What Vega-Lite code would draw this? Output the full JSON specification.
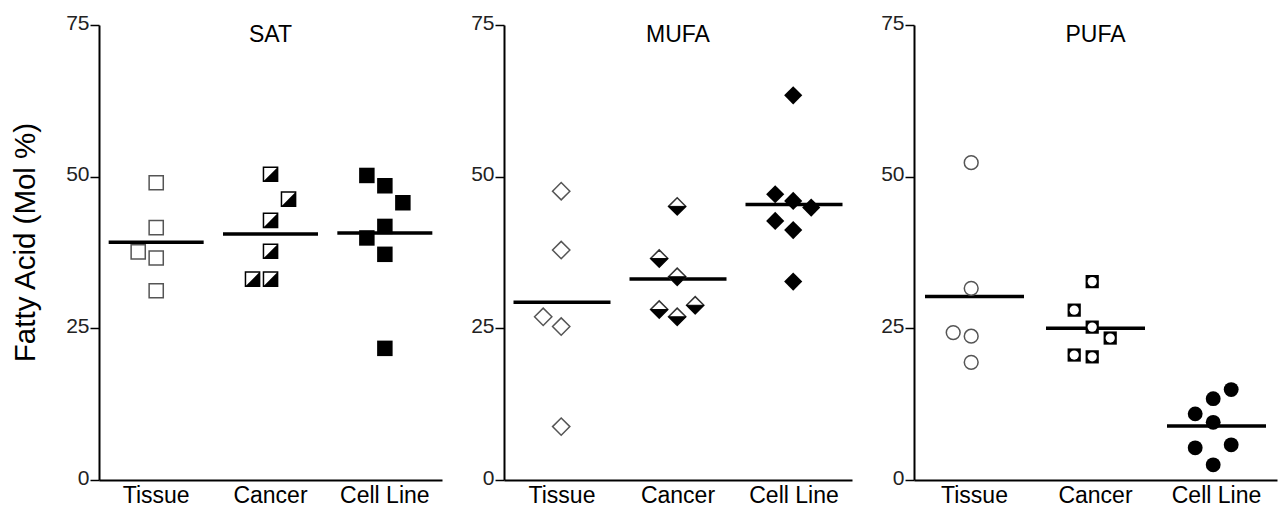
{
  "$schema": "https://vega.github.io/schema/vega-lite/v6.json",
  "padding": {"left": 10, "top": 12, "right": 2, "bottom": 5},
  "spacing": 28,
  "config": {
    "font": "Liberation Sans",
    "view": {"stroke": null},
    "axis": {"grid": false, "domainColor": "black", "domainWidth": 2, "tickColor": "black", "tickWidth": 1.5, "labelFont": "Liberation Sans", "titleFont": "Liberation Sans"},
    "title": {"font": "Liberation Sans", "fontSize": 23, "fontWeight": "normal", "color": "black", "anchor": "middle", "offset": -35, "baseline": "alphabetic"}
  },
  "data": {"values": [
    {"panel": "SAT", "group": "Tissue", "value": 49.0, "slot": 0},
    {"panel": "SAT", "group": "Tissue", "value": 41.6, "slot": 0},
    {"panel": "SAT", "group": "Tissue", "value": 37.6, "slot": -1},
    {"panel": "SAT", "group": "Tissue", "value": 36.6, "slot": 0},
    {"panel": "SAT", "group": "Tissue", "value": 31.2, "slot": 0},
    {"panel": "SAT", "group": "Cancer", "value": 50.4, "slot": 0},
    {"panel": "SAT", "group": "Cancer", "value": 46.3, "slot": 1},
    {"panel": "SAT", "group": "Cancer", "value": 42.8, "slot": 0},
    {"panel": "SAT", "group": "Cancer", "value": 37.7, "slot": 0},
    {"panel": "SAT", "group": "Cancer", "value": 33.1, "slot": -1},
    {"panel": "SAT", "group": "Cancer", "value": 33.1, "slot": 0},
    {"panel": "SAT", "group": "Cell Line", "value": 50.2, "slot": -1},
    {"panel": "SAT", "group": "Cell Line", "value": 48.5, "slot": 0},
    {"panel": "SAT", "group": "Cell Line", "value": 45.7, "slot": 1},
    {"panel": "SAT", "group": "Cell Line", "value": 41.8, "slot": 0},
    {"panel": "SAT", "group": "Cell Line", "value": 39.9, "slot": -1},
    {"panel": "SAT", "group": "Cell Line", "value": 37.2, "slot": 0},
    {"panel": "SAT", "group": "Cell Line", "value": 21.7, "slot": 0},
    {"panel": "MUFA", "group": "Tissue", "value": 47.6, "slot": 0},
    {"panel": "MUFA", "group": "Tissue", "value": 37.9, "slot": 0},
    {"panel": "MUFA", "group": "Tissue", "value": 26.9, "slot": -1},
    {"panel": "MUFA", "group": "Tissue", "value": 25.3, "slot": 0},
    {"panel": "MUFA", "group": "Tissue", "value": 8.8, "slot": 0},
    {"panel": "MUFA", "group": "Cancer", "value": 45.1, "slot": 0},
    {"panel": "MUFA", "group": "Cancer", "value": 36.5, "slot": -1},
    {"panel": "MUFA", "group": "Cancer", "value": 33.5, "slot": 0},
    {"panel": "MUFA", "group": "Cancer", "value": 28.1, "slot": -1},
    {"panel": "MUFA", "group": "Cancer", "value": 26.9, "slot": 0},
    {"panel": "MUFA", "group": "Cancer", "value": 28.8, "slot": 1},
    {"panel": "MUFA", "group": "Cell Line", "value": 63.4, "slot": 0},
    {"panel": "MUFA", "group": "Cell Line", "value": 47.1, "slot": -1},
    {"panel": "MUFA", "group": "Cell Line", "value": 46.0, "slot": 0},
    {"panel": "MUFA", "group": "Cell Line", "value": 44.9, "slot": 1},
    {"panel": "MUFA", "group": "Cell Line", "value": 42.7, "slot": -1},
    {"panel": "MUFA", "group": "Cell Line", "value": 41.2, "slot": 0},
    {"panel": "MUFA", "group": "Cell Line", "value": 32.7, "slot": 0},
    {"panel": "PUFA", "group": "Tissue", "value": 52.3, "slot": 0},
    {"panel": "PUFA", "group": "Tissue", "value": 31.6, "slot": 0},
    {"panel": "PUFA", "group": "Tissue", "value": 24.3, "slot": -1},
    {"panel": "PUFA", "group": "Tissue", "value": 23.7, "slot": 0},
    {"panel": "PUFA", "group": "Tissue", "value": 19.4, "slot": 0},
    {"panel": "PUFA", "group": "Cancer", "value": 32.7, "slot": 0},
    {"panel": "PUFA", "group": "Cancer", "value": 28.0, "slot": -1},
    {"panel": "PUFA", "group": "Cancer", "value": 25.2, "slot": 0},
    {"panel": "PUFA", "group": "Cancer", "value": 23.4, "slot": 1},
    {"panel": "PUFA", "group": "Cancer", "value": 20.6, "slot": -1},
    {"panel": "PUFA", "group": "Cancer", "value": 20.3, "slot": 0},
    {"panel": "PUFA", "group": "Cell Line", "value": 14.9, "slot": 1},
    {"panel": "PUFA", "group": "Cell Line", "value": 13.4, "slot": 0},
    {"panel": "PUFA", "group": "Cell Line", "value": 10.9, "slot": -1},
    {"panel": "PUFA", "group": "Cell Line", "value": 9.5, "slot": 0},
    {"panel": "PUFA", "group": "Cell Line", "value": 5.3, "slot": -1},
    {"panel": "PUFA", "group": "Cell Line", "value": 5.8, "slot": 1},
    {"panel": "PUFA", "group": "Cell Line", "value": 2.5, "slot": 0}
  ]},
  "hconcat": [
    {
      "width": 343, "height": 455,
      "title": {"text": "SAT"},
      "transform": [{"filter": "datum.panel === 'SAT'"}],
      "encoding": {
        "x": {"field": "group", "type": "nominal", "sort": ["Tissue", "Cancer", "Cell Line"], "scale": {"domain": ["Tissue", "Cancer", "Cell Line"], "paddingInner": 0, "paddingOuter": 0}, "axis": {"title": null, "ticks": false, "labelAngle": 0, "labelFontSize": 23, "labelColor": "black", "labelPadding": 4}},
        "y": {"field": "value", "type": "quantitative", "scale": {"domain": [0, 75], "nice": false}, "axis": {"values": [0, 25, 50, 75], "tickSize": 9, "labelFontSize": 21, "labelColor": "#222", "labelPadding": 1, "labelBaseline": "alphabetic", "labelOffset": 4, "title": "Fatty Acid (Mol %)", "titleFontSize": 29.5, "titleFontWeight": "normal", "titleColor": "black", "titlePadding": 25, "titleY": 217}}
      },
      "layer": [
        {"mark": {"type": "tick", "thickness": 3.5, "size": 95, "color": "black"}, "encoding": {"y": {"aggregate": "mean", "field": "value", "type": "quantitative"}}},
        {"transform": [{"filter": "datum.group === 'Tissue'"}], "mark": {"type": "point", "shape": "square", "filled": true, "fill": "white", "stroke": "#555", "strokeWidth": 1.5, "size": 200, "opacity": 1}, "encoding": {"xOffset": {"field": "slot", "type": "quantitative", "scale": {"domain": [-1, 1], "range": [39.2, 75.2]}}}},
        {"transform": [{"filter": "datum.group === 'Cancer'"}], "mark": {"type": "point", "shape": "square", "filled": true, "fill": "white", "stroke": "black", "strokeWidth": 1.5, "size": 200, "opacity": 1}, "encoding": {"xOffset": {"field": "slot", "type": "quantitative", "scale": {"domain": [-1, 1], "range": [39.2, 75.2]}}}},
        {"transform": [{"filter": "datum.group === 'Cancer'"}], "mark": {"type": "point", "shape": "M1,-1L1,1L-1,1Z", "filled": true, "fill": "black", "strokeWidth": 0, "size": 200, "opacity": 1}, "encoding": {"xOffset": {"field": "slot", "type": "quantitative", "scale": {"domain": [-1, 1], "range": [39.2, 75.2]}}}},
        {"transform": [{"filter": "datum.group === 'Cell Line'"}], "mark": {"type": "point", "shape": "square", "filled": true, "fill": "black", "strokeWidth": 0, "size": 240, "opacity": 1}, "encoding": {"xOffset": {"field": "slot", "type": "quantitative", "scale": {"domain": [-1, 1], "range": [39.2, 75.2]}}}}
      ]
    },
    {
      "width": 348, "height": 455,
      "title": {"text": "MUFA"},
      "transform": [{"filter": "datum.panel === 'MUFA'"}],
      "encoding": {
        "x": {"field": "group", "type": "nominal", "sort": ["Tissue", "Cancer", "Cell Line"], "scale": {"domain": ["Tissue", "Cancer", "Cell Line"], "paddingInner": 0, "paddingOuter": 0}, "axis": {"title": null, "ticks": false, "labelAngle": 0, "labelFontSize": 23, "labelColor": "black", "labelPadding": 4}},
        "y": {"field": "value", "type": "quantitative", "scale": {"domain": [0, 75], "nice": false}, "axis": {"values": [0, 25, 50, 75], "tickSize": 9, "labelFontSize": 21, "labelColor": "#222", "labelPadding": 1, "labelBaseline": "alphabetic", "labelOffset": 4, "title": null}}
      },
      "layer": [
        {"mark": {"type": "tick", "thickness": 3.5, "size": 97, "color": "black"}, "encoding": {"y": {"aggregate": "mean", "field": "value", "type": "quantitative"}}},
        {"transform": [{"filter": "datum.group === 'Tissue'"}], "mark": {"type": "point", "shape": "diamond", "filled": true, "fill": "white", "stroke": "#555", "strokeWidth": 1.5, "size": 300, "opacity": 1}, "encoding": {"xOffset": {"field": "slot", "type": "quantitative", "scale": {"domain": [-1, 1], "range": [37, 79]}}}},
        {"transform": [{"filter": "datum.group === 'Cancer'"}], "mark": {"type": "point", "shape": "diamond", "filled": true, "fill": "white", "stroke": "#333", "strokeWidth": 1.5, "size": 300, "opacity": 1}, "encoding": {"xOffset": {"field": "slot", "type": "quantitative", "scale": {"domain": [-1, 1], "range": [37, 79]}}}},
        {"transform": [{"filter": "datum.group === 'Cancer'"}], "mark": {"type": "point", "shape": "M-1,0L1,0L0,1Z", "filled": true, "fill": "black", "stroke": "black", "strokeWidth": 1, "size": 300, "opacity": 1}, "encoding": {"xOffset": {"field": "slot", "type": "quantitative", "scale": {"domain": [-1, 1], "range": [37, 79]}}}},
        {"transform": [{"filter": "datum.group === 'Cell Line'"}], "mark": {"type": "point", "shape": "diamond", "filled": true, "fill": "black", "strokeWidth": 0, "size": 330, "opacity": 1}, "encoding": {"xOffset": {"field": "slot", "type": "quantitative", "scale": {"domain": [-1, 1], "range": [37, 79]}}}}
      ]
    },
    {
      "width": 363, "height": 455,
      "title": {"text": "PUFA"},
      "transform": [{"filter": "datum.panel === 'PUFA'"}],
      "encoding": {
        "x": {"field": "group", "type": "nominal", "sort": ["Tissue", "Cancer", "Cell Line"], "scale": {"domain": ["Tissue", "Cancer", "Cell Line"], "paddingInner": 0, "paddingOuter": 0}, "axis": {"title": null, "ticks": false, "labelAngle": 0, "labelFontSize": 23, "labelColor": "black", "labelPadding": 4}},
        "y": {"field": "value", "type": "quantitative", "scale": {"domain": [0, 75], "nice": false}, "axis": {"values": [0, 25, 50, 75], "tickSize": 9, "labelFontSize": 21, "labelColor": "#222", "labelPadding": 1, "labelBaseline": "alphabetic", "labelOffset": 4, "title": null}}
      },
      "layer": [
        {"mark": {"type": "tick", "thickness": 3.5, "size": 99, "color": "black"}, "encoding": {"y": {"aggregate": "mean", "field": "value", "type": "quantitative"}}},
        {"transform": [{"filter": "datum.group === 'Tissue'"}], "mark": {"type": "point", "shape": "circle", "filled": true, "fill": "white", "stroke": "#555", "strokeWidth": 1.5, "size": 190, "opacity": 1}, "encoding": {"xOffset": {"field": "slot", "type": "quantitative", "scale": {"domain": [-1, 1], "range": [41.5, 79.5]}}}},
        {"transform": [{"filter": "datum.group === 'Cancer'"}], "mark": {"type": "point", "shape": "square", "filled": true, "fill": "black", "strokeWidth": 0, "size": 175, "opacity": 1}, "encoding": {"xOffset": {"field": "slot", "type": "quantitative", "scale": {"domain": [-1, 1], "range": [41.5, 79.5]}}}},
        {"transform": [{"filter": "datum.group === 'Cancer'"}], "mark": {"type": "point", "shape": "circle", "filled": true, "fill": "white", "strokeWidth": 0, "size": 85, "opacity": 1}, "encoding": {"xOffset": {"field": "slot", "type": "quantitative", "scale": {"domain": [-1, 1], "range": [41.5, 79.5]}}}},
        {"transform": [{"filter": "datum.group === 'Cell Line'"}], "mark": {"type": "point", "shape": "circle", "filled": true, "fill": "black", "strokeWidth": 0, "size": 220, "opacity": 1}, "encoding": {"xOffset": {"field": "slot", "type": "quantitative", "scale": {"domain": [-1, 1], "range": [41.5, 79.5]}}}}
      ]
    }
  ]
}
